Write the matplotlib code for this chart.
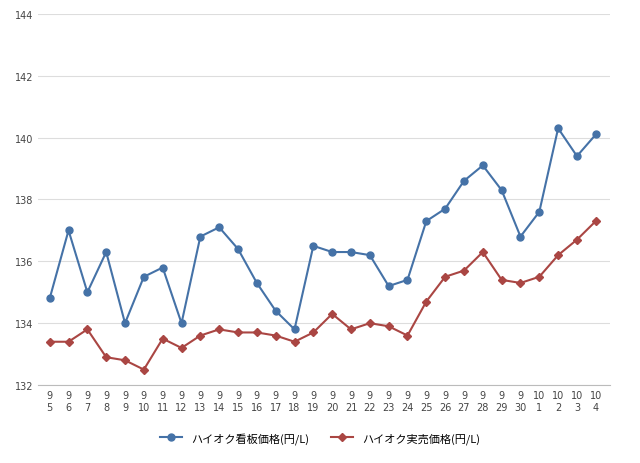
import matplotlib
matplotlib.use("Agg")
import matplotlib.pyplot as plt

months = ["9"]*26 + ["10"]*4
days = [str(d) for d in range(5, 31)] + ["1", "2", "3", "4"]
labels = [f"{m}\n{d}" for m, d in zip(months, days)]
posted = [134.8,137.0,135.0,136.3,134.0,135.5,135.8,134.0,136.8,137.1,136.4,135.3,134.4,133.8,136.5,
          136.3,136.3,136.2,135.2,135.4,137.3,137.7,138.6,139.1,138.3,136.8,137.6,140.3,139.4,140.1]
actual = [133.4,133.4,133.8,132.9,132.8,132.5,133.5,133.2,133.6,133.8,133.7,133.7,133.6,133.4,133.7,
          134.3,133.8,134.0,133.9,133.6,134.7,135.5,135.7,136.3,135.4,135.3,135.5,136.2,136.7,137.3]

fig = plt.figure(figsize=(6.4, 4.64), dpi=100)
ax = fig.add_axes([0.06, 0.168, 0.893, 0.8])
x = range(len(labels))
ax.plot(x, posted, color="#4572a7", marker="o", markersize=5, lw=1.5, label="ハイオク看板価格(円/L)")
ax.plot(x, actual, color="#aa4643", marker="D", markersize=4, lw=1.5, label="ハイオク実売価格(円/L)")
ax.set_ylim(132, 144)
ax.set_yticks(range(132, 145, 2))
ax.set_xlim(-0.6, len(labels) - 0.25)
ax.set_xticks(list(x))
ax.set_xticklabels(labels, fontsize=7, color="#444444")
ax.tick_params(axis="y", labelsize=7, colors="#444444", length=0)
ax.tick_params(axis="x", length=0)
ax.grid(axis="y", color="#dddddd", lw=0.8)
for s in ["top", "right", "left"]:
    ax.spines[s].set_visible(False)
ax.spines["bottom"].set_color("#bbbbbb")
fig.legend(loc="lower center", ncol=2, frameon=False, bbox_to_anchor=(0.5, 0.02),
           prop={"family": "Noto Sans CJK JP", "size": 8})
fig.savefig("out.png")
